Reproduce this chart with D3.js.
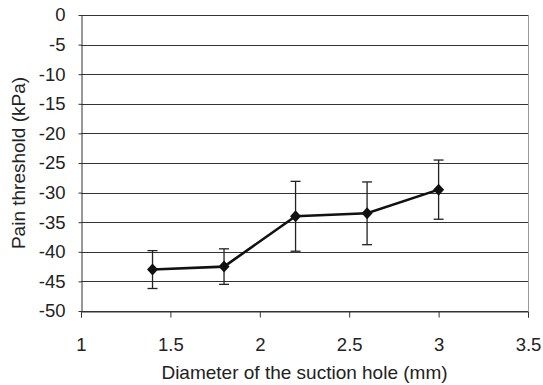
<!DOCTYPE html>
<html>
<head>
<meta charset="utf-8">
<script src="https://cdn.jsdelivr.net/npm/d3@7"></script>
<style>
  body { margin: 0; background: #fff; }
  text { font-family: "Liberation Sans", Arial, sans-serif; fill: #222; }
</style>
</head>
<body>
<svg id="chart"></svg>
<script>
const diameters = [1.4, 1.8, 2.2, 2.6, 3.0];
const thresholds = [-43, -42.5, -34, -33.5, -29.5];
const errors = [3.2, 3.0, 5.9, 5.3, 5.0];
const xTicks = [1, 1.5, 2, 2.5, 3, 3.5];
const yTicks = [0, -5, -10, -15, -20, -25, -30, -35, -40, -45, -50];

const width = 543;
const height = 385;
const margin = { top: 15, right: 15, bottom: 74, left: 81 };

const svg = d3.select('#chart').attr('width', width).attr('height', height);

const x = d3.scaleLinear().domain([1, 3.5]).range([margin.left, width - margin.right]);
const y = d3.scaleLinear().domain([-50, 0]).range([height - margin.bottom, margin.top]);

// gridlines
svg.append('g')
  .selectAll('line')
  .data(yTicks)
  .join('line')
  .attr('x1', margin.left)
  .attr('x2', width - margin.right)
  .attr('y1', (d) => Math.round(y(d)) + 0.5)
  .attr('y2', (d) => Math.round(y(d)) + 0.5)
  .attr('stroke', '#333')
  .attr('stroke-width', 1);

// right border
svg.append('line')
  .attr('x1', width - margin.right + 0.5)
  .attr('x2', width - margin.right + 0.5)
  .attr('y1', margin.top)
  .attr('y2', height - margin.bottom)
  .attr('stroke', '#999');

const xAxis = svg.append('g')
  .attr('transform', `translate(0,${Math.round(y(-50)) + 0.5})`)
  .call(d3.axisBottom(x).tickValues(xTicks).tickFormat(d3.format('')).tickSize(6).tickPadding(20));
xAxis.select('.domain').attr('stroke', '#333');
xAxis.selectAll('.tick line').attr('stroke', '#333');
xAxis.selectAll('text').attr('font-size', 18.5).attr('fill', '#222');

const yAxis = svg.append('g')
  .attr('transform', `translate(${margin.left + 0.5},0)`)
  .call(d3.axisLeft(y).tickValues(yTicks).tickFormat(d3.format('')).tickSize(3).tickPadding(13).tickSizeOuter(0));
yAxis.select('.domain').attr('stroke', '#333');
yAxis.selectAll('.tick line').attr('stroke', '#333');
yAxis.selectAll('text').attr('font-size', 18.5).attr('fill', '#222');
yAxis.selectAll('text').text((d) => String(d));

// error bars
const pts = diameters.map((d, i) => ({ x: d, y: thresholds[i], e: errors[i] }));
const eb = svg.append('g').attr('stroke', '#222').attr('stroke-width', 1.3);
eb.selectAll('.v')
  .data(pts)
  .join('line')
  .attr('x1', (d) => x(d.x))
  .attr('x2', (d) => x(d.x))
  .attr('y1', (d) => y(d.y + d.e))
  .attr('y2', (d) => y(d.y - d.e));
eb.selectAll('.top')
  .data(pts)
  .join('line')
  .attr('x1', (d) => x(d.x) - 5)
  .attr('x2', (d) => x(d.x) + 5)
  .attr('y1', (d) => y(d.y + d.e))
  .attr('y2', (d) => y(d.y + d.e));
eb.selectAll('.bot')
  .data(pts)
  .join('line')
  .attr('x1', (d) => x(d.x) - 5)
  .attr('x2', (d) => x(d.x) + 5)
  .attr('y1', (d) => y(d.y - d.e))
  .attr('y2', (d) => y(d.y - d.e));

// line
const line = d3.line().x((d) => x(d.x)).y((d) => y(d.y));
svg.append('path')
  .datum(pts)
  .attr('d', line)
  .attr('fill', 'none')
  .attr('stroke', '#111')
  .attr('stroke-width', 2.6);

// markers
svg.append('g')
  .selectAll('path')
  .data(pts)
  .join('path')
  .attr('transform', (d) => `translate(${x(d.x)},${y(d.y)})`)
  .attr('d', 'M0,-6L5.5,0L0,6L-5.5,0Z')
  .attr('fill', '#111');

// titles
svg.append('text')
  .attr('x', (margin.left + width - margin.right) / 2)
  .attr('y', 379)
  .attr('text-anchor', 'middle')
  .attr('font-size', 19)
  .text('Diameter of the suction hole (mm)');

svg.append('text')
  .attr('transform', `translate(25,${(y(0) + y(-50)) / 2}) rotate(-90)`)
  .attr('text-anchor', 'middle')
  .attr('font-size', 19)
  .text('Pain threshold (kPa)');
</script>
</body>
</html>
